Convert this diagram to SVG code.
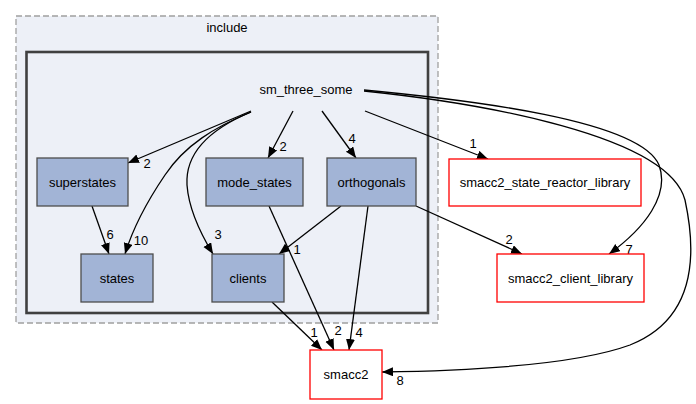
<svg xmlns="http://www.w3.org/2000/svg" width="696" height="404" viewBox="0 0 696 404">
<style>
text{font-family:"Liberation Sans",Arial,sans-serif;font-size:13px;fill:#000;text-anchor:middle}
.lbl{font-size:13px}
.dir rect{fill:#a2b4d6;stroke:#4d4d4d;stroke-width:1.3}
.ext rect{fill:#fff;stroke:#ff0000;stroke-width:1.3}
.e{fill:none;stroke:#000;stroke-width:1.3;marker-end:url(#ah)}
</style>
<defs>
<marker id="ah" markerUnits="userSpaceOnUse" markerWidth="13" markerHeight="10" refX="11" refY="4.5" orient="auto">
<path d="M0,0 L11,4.5 L0,9 Z" fill="#000"/>
</marker>
</defs>
<rect width="696" height="404" fill="#fff"/>
<g id="cluster_include">
<rect x="16" y="16" width="422" height="307" fill="#edf0f7" stroke="#a0a0a0" stroke-width="1.3" stroke-dasharray="6,3"/>
<text x="227" y="32">include</text>
</g>
<g id="cluster_sm_three_some">
<rect x="26.5" y="52" width="401.5" height="261" fill="#edf0f7" stroke="#404040" stroke-width="2.6"/>
<text x="306" y="94">sm_three_some</text>
</g>
<g id="connectors">
<path class="e" d="M251,111 L128,163"/>
<text class="lbl" x="147" y="168">2</text>
<path class="e" d="M251,112 C215,127 185,145 165,175 C148,200 133,228 125,254"/>
<text class="lbl" x="141" y="245">10</text>
<path class="e" d="M251,112 C215,127 185,150 187,185 C189,212 202,236 213,254"/>
<text class="lbl" x="218" y="239">3</text>
<path class="e" d="M293,111 L268,158"/>
<text class="lbl" x="283" y="151">2</text>
<path class="e" d="M322,111 L356,158"/>
<text class="lbl" x="352" y="143">4</text>
<path class="e" d="M365,111 L488,159"/>
<text class="lbl" x="473" y="148">1</text>
<path class="e" d="M364,90 C470,100 640,120 659,165 C670,195 645,228 609,254"/>
<text class="lbl" x="629" y="254">7</text>
<path class="e" d="M364,91 C480,103 668,135 685,200 C698,260 693,320 630,345 C570,367 450,371 382,372"/>
<text class="lbl" x="400" y="385">8</text>
<path class="e" d="M92,206 L109,254"/>
<text class="lbl" x="110" y="239">6</text>
<path class="e" d="M341,206 L279,254"/>
<text class="lbl" x="297" y="254">1</text>
<path class="e" d="M368,206 L349,350"/>
<text class="lbl" x="359" y="337">4</text>
<path class="e" d="M416,206 L522,254"/>
<text class="lbl" x="509" y="244">2</text>
<path class="e" d="M269,206 L334,350"/>
<text class="lbl" x="338" y="335">2</text>
<path class="e" d="M272,302 L322,350"/>
<text class="lbl" x="314" y="337">1</text>
</g>
<g id="superstates" class="dir"><rect x="37" y="158" width="91" height="48"/><text x="82.5" y="186.5">superstates</text></g>
<g id="mode_states" class="dir"><rect x="206" y="158" width="97" height="48"/><text x="254.5" y="186.5">mode_states</text></g>
<g id="orthogonals" class="dir"><rect x="327" y="158" width="89" height="48"/><text x="371.5" y="186.5">orthogonals</text></g>
<g id="states" class="dir"><rect x="81" y="254" width="72" height="48"/><text x="117" y="282.5">states</text></g>
<g id="clients" class="dir"><rect x="212" y="254" width="72" height="48"/><text x="248" y="282.5">clients</text></g>
<g id="smacc2_state_reactor_library" class="ext"><rect x="449" y="159" width="192" height="47"/><text x="545" y="186.5">smacc2_state_reactor_library</text></g>
<g id="smacc2_client_library" class="ext"><rect x="497" y="254" width="147" height="48"/><text x="570.5" y="282.5">smacc2_client_library</text></g>
<g id="smacc2" class="ext"><rect x="310" y="350" width="72" height="49"/><text x="346" y="378.5">smacc2</text></g>
</svg>
